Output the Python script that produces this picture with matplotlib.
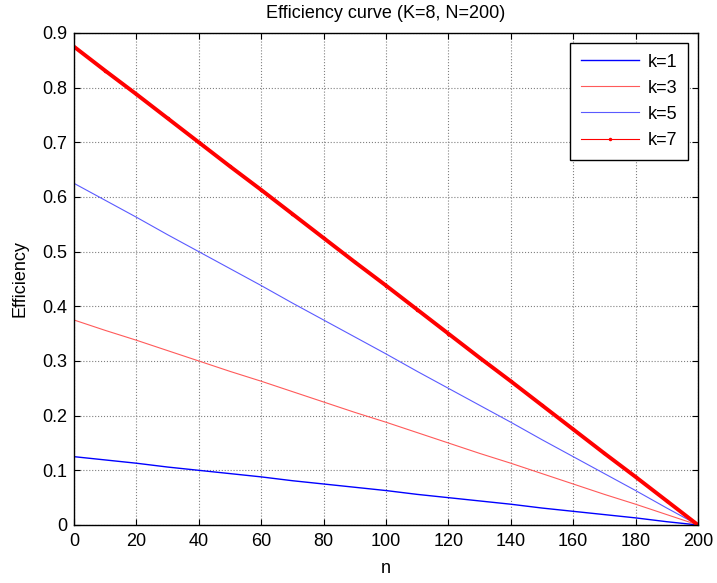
import matplotlib
matplotlib.use('Agg')
import matplotlib.pyplot as plt

plt.rcParams['font.family'] = ['Liberation Sans', 'DejaVu Sans']

# efficiency values sampled every 10 steps of n
n = [0, 10, 20, 30, 40, 50, 60, 70, 80, 90, 100,
     110, 120, 130, 140, 150, 160, 170, 180, 190, 200]
eff_k1 = [0.125, 0.119, 0.113, 0.106, 0.100, 0.094, 0.088, 0.081, 0.075, 0.069, 0.063,
          0.056, 0.050, 0.044, 0.038, 0.031, 0.025, 0.019, 0.013, 0.006, 0.000]
eff_k3 = [0.375, 0.356, 0.338, 0.319, 0.300, 0.281, 0.263, 0.244, 0.225, 0.206, 0.188,
          0.169, 0.150, 0.131, 0.113, 0.094, 0.075, 0.056, 0.038, 0.019, 0.000]
eff_k5 = [0.625, 0.594, 0.563, 0.531, 0.500, 0.469, 0.438, 0.406, 0.375, 0.344, 0.313,
          0.281, 0.250, 0.219, 0.188, 0.156, 0.125, 0.094, 0.063, 0.031, 0.000]
eff_k7 = [0.875, 0.831, 0.788, 0.744, 0.700, 0.656, 0.613, 0.569, 0.525, 0.481, 0.438,
          0.394, 0.350, 0.306, 0.263, 0.219, 0.175, 0.131, 0.088, 0.044, 0.000]

fs = 13

fig = plt.figure(figsize=(7.17, 5.83), dpi=100)
ax = fig.add_axes([0.1032, 0.0995, 0.8703, 0.8439])

ax.plot(n, eff_k1, color='#0000ff', lw=1.0, label='k=1')
ax.plot(n, eff_k3, color='#ff5a5a', lw=0.8, label='k=3')
ax.plot(n, eff_k5, color='#5a5aff', lw=0.8, label='k=5')
# k=7: dense dot markers make a thick band, legend shows the thin line + dot
ax.plot(n, eff_k7, color='#ff0000', lw=2.8, solid_capstyle='butt')
ax.plot(n, eff_k7, color='#ff0000', lw=0.8, marker='.', ms=3, label='k=7')

ax.set_xlim(0, 200)
ax.set_ylim(0, 0.9)
ax.set_xticks(range(0, 201, 20))
ax.set_yticks([i / 10 for i in range(10)])
ax.set_yticklabels(['0', '0.1', '0.2', '0.3', '0.4', '0.5', '0.6', '0.7', '0.8', '0.9'])

ax.grid(True, color='#808080', linestyle=':', linewidth=0.8)
ax.tick_params(direction='in', top=True, right=True, labelsize=fs, length=4)
ax.tick_params(axis='x', pad=6)
ax.tick_params(axis='y', pad=5)
for s in ax.spines.values():
    s.set_linewidth(1.0)

ax.set_title('Efficiency curve (K=8, N=200)', fontsize=fs, pad=11)
ax.set_xlabel('n', fontsize=fs, labelpad=7)
ax.set_ylabel('Efficiency', fontsize=fs, labelpad=10)

leg = ax.legend(loc='upper right', fontsize=fs, handlelength=3.2, numpoints=1,
                fancybox=False, framealpha=1, edgecolor='black', handletextpad=0.5,
                borderaxespad=0.55, labelspacing=0.5, borderpad=0.6)
leg.get_frame().set_linewidth(1.0)

fig.savefig('out.png', dpi=100)
